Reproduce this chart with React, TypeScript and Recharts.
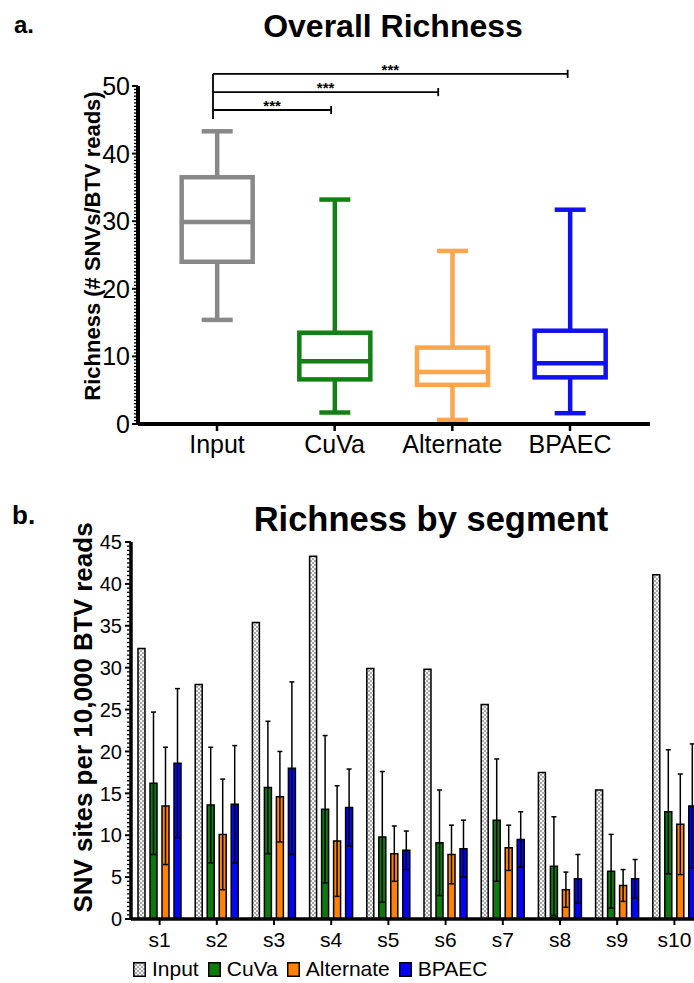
import React from 'react';
import {
  ComposedChart, BarChart, Bar, XAxis, YAxis, ErrorBar, ReferenceLine, Legend, Label,
} from 'recharts';

// panel a: overall richness box plot
const groups = ['Input', 'CuVa', 'Alternate', 'BPAEC'];
const boxMin = [15.4, 1.7, 0.6, 1.6];
const boxQ1 = [24.0, 6.6, 5.8, 6.9];
const boxMedian = [29.9, 9.3, 7.7, 9.0];
const boxQ3 = [36.5, 13.5, 11.3, 13.8];
const boxMax = [43.3, 33.2, 25.6, 31.7];
const boxColors = ['#888888', '#138013', '#ffa64d', '#1111ee'];
const groupTicks = [0, 1, 2, 3];
const richTicks = Array.from({ length: 101 }, (_, i) => i * 0.5);

// significance brackets (all vs Input), x in group units
const bracketStart = -0.034;
const bracketEnds = [0.97, 1.88, 2.98];
const bracketLevels = [46.45, 49.1, 51.8];
const bracketBottom = 45.1;
const sigLabel = '***';

// panel b: richness by segment
const segments = ['s1', 's2', 's3', 's4', 's5', 's6', 's7', 's8', 's9', 's10'];
const inputVals = [32.3, 28.0, 35.4, 43.3, 29.9, 29.8, 25.6, 17.5, 15.4, 41.1];
const cuvaVals = [16.2, 13.6, 15.7, 13.1, 9.8, 9.1, 11.8, 6.3, 5.7, 12.8];
const cuvaErr = [8.5, 6.9, 7.9, 8.8, 7.8, 6.3, 7.3, 5.9, 4.4, 7.4];
const altVals = [13.5, 10.1, 14.6, 9.3, 7.8, 7.7, 8.5, 3.5, 4.0, 11.3];
const altErr = [7.0, 6.6, 5.4, 6.6, 3.3, 3.5, 2.7, 2.1, 1.9, 6.0];
const bpaecVals = [18.6, 13.7, 18.0, 13.3, 8.2, 8.4, 9.5, 4.8, 4.8, 13.5];
const bpaecErr = [8.9, 7.0, 10.3, 4.6, 2.3, 3.4, 3.3, 2.9, 2.3, 7.4];
const segTicks = Array.from({ length: 91 }, (_, i) => i * 0.5);

const seriesNames = ['Input', 'CuVa', 'Alternate', 'BPAEC'];
const seriesFills = ['url(#checker)', '#0e7a0e', '#ff8205', '#0505f5'];

const boxData = groups.map((g, i) => ({
  idx: i, group: g, min: boxMin[i], q1: boxQ1[i], median: boxMedian[i], q3: boxQ3[i], max: boxMax[i],
}));

const segData = segments.map((s, i) => ({
  segment: s,
  input: inputVals[i],
  cuva: cuvaVals[i], cuvaErr: cuvaErr[i],
  alt: altVals[i], altErr: altErr[i],
  bpaec: bpaecVals[i], bpaecErr: bpaecErr[i],
}));

const FONT = '"Liberation Sans", Arial, sans-serif';

function BoxShape(props: any) {
  const { x, y, width, height, payload, index } = props;
  const { min, q1, median, q3, max } = payload;
  const py = (v: number) => y + (height * (max - v)) / (max - min);
  const cx = x + width / 2;
  const half = 35.5;
  const cap = 15.5;
  return (
    <g stroke={boxColors[index]} strokeWidth={4.5} fill="none">
      <line x1={cx} x2={cx} y1={py(max)} y2={py(q3)} />
      <line x1={cx} x2={cx} y1={py(q1)} y2={py(min)} />
      <line x1={cx - cap} x2={cx + cap} y1={py(max)} y2={py(max)} />
      <line x1={cx - cap} x2={cx + cap} y1={py(min)} y2={py(min)} />
      <rect x={cx - half} y={py(q3)} width={half * 2} height={py(q1) - py(q3)} />
      <line x1={cx - half} x2={cx + half} y1={py(median)} y2={py(median)} />
    </g>
  );
}

const makeYTick = (major: number, fontSize: number, gap: number) => (props: any) => {
  const { x, y, payload } = props;
  const v = payload.value;
  const isMajor = Math.abs(v / major - Math.round(v / major)) < 1e-6;
  return (
    <g>
      <line x1={x - (isMajor ? 6 : 4)} x2={x} y1={y} y2={y} stroke="#000" strokeWidth={isMajor ? 2 : 1.3} />
      {isMajor && (
        <text x={x - gap} y={y} dy="0.36em" textAnchor="end" fontSize={fontSize} fill="#000">{v}</text>
      )}
    </g>
  );
};

const yTitle = (text: string, fontSize: number, dx: number, dy: number) => (props: any) => {
  const vb = props.viewBox;
  const cx = vb.x + vb.width / 2 + dx;
  const cy = vb.y + vb.height / 2 + dy;
  return (
    <text x={cx} y={cy} transform={`rotate(-90 ${cx} ${cy})`} textAnchor="middle"
      dominantBaseline="central" fontSize={fontSize} fontWeight="bold" fill="#000">{text}</text>
  );
};

function SegLegend() {
  return (
    <div style={{ display: 'flex', alignItems: 'center', fontSize: 21, fontFamily: FONT, color: '#000' }}>
      {seriesNames.map((n, i) => (
        <div key={n} style={{ display: 'flex', alignItems: 'center', marginRight: 9 }}>
          <svg width={13} height={15} style={{ marginRight: 6 }}>
            <rect x={0.75} y={0.75} width={11.5} height={13.5} fill={seriesFills[i]} stroke="#000" strokeWidth={1.5} />
          </svg>
          <span>{n}</span>
        </div>
      ))}
    </div>
  );
}

const headStyle = (left: number, top: number, size: number): React.CSSProperties => ({
  position: 'absolute', left, top, fontSize: size, fontWeight: 'bold', lineHeight: 1, whiteSpace: 'nowrap',
});

export default function App() {
  return (
    <div style={{
      position: 'absolute', left: 0, top: 0, width: 694, height: 983, overflow: 'hidden',
      background: '#fff', fontFamily: FONT, color: '#000',
    }}>
      <svg width={0} height={0} style={{ position: 'absolute' }}>
        <defs>
          <pattern id="checker" width={4} height={4} patternUnits="userSpaceOnUse">
            <rect width={4} height={4} fill="#f4f4f4" />
            <rect width={2} height={2} fill="#a8a8a8" />
            <rect x={2} y={2} width={2} height={2} fill="#a8a8a8" />
          </pattern>
        </defs>
      </svg>

      <div style={headStyle(14, 13, 24)}>a.</div>
      <div style={{ ...headStyle(0, 10, 32), width: 786, textAlign: 'center' }}>Overall Richness</div>

      <div style={{ position: 'absolute', left: 0, top: 0 }}>
        <ComposedChart width={694} height={470} data={boxData}
          margin={{ top: 86, right: 44, bottom: 16, left: 50 }}>
          <XAxis dataKey="idx" type="number" domain={[0, 3]} ticks={groupTicks} interval={0}
            padding={{ left: 79, right: 80 }} tickFormatter={(i: number) => groups[i]}
            axisLine={{ stroke: '#000', strokeWidth: 4 }} tickLine={{ stroke: '#000', strokeWidth: 2.5 }}
            tickSize={7} tickMargin={4} tick={{ fontSize: 25, fill: '#000' }} />
          <YAxis width={88} domain={[0, 50]} ticks={richTicks} interval={0} allowDataOverflow
            axisLine={{ stroke: '#000', strokeWidth: 4 }} tickLine={false} tickSize={0} tickMargin={0}
            tick={makeYTick(10, 25, 8)}>
            <Label content={yTitle('Richness (# SNVs/BTV reads)', 22, -2, -9)} />
          </YAxis>
          <Bar dataKey={(d: any) => [d.min, d.max]} barSize={72} shape={BoxShape} isAnimationActive={false} />
          <ReferenceLine ifOverflow="visible" stroke="#000" strokeWidth={1.8}
            segment={[{ x: bracketStart, y: bracketBottom }, { x: bracketStart, y: bracketLevels[2] }]} />
          {bracketEnds.map((e, i) => (
            <ReferenceLine key={'b' + i} ifOverflow="visible" stroke="#000" strokeWidth={1.8}
              segment={[{ x: bracketStart, y: bracketLevels[i] }, { x: e, y: bracketLevels[i] }]}
              label={{ value: sigLabel, position: 'top', offset: -1, fontSize: 15, fontWeight: 'bold', fill: '#000' }} />
          ))}
          {bracketEnds.map((e, i) => (
            <ReferenceLine key={'t' + i} ifOverflow="visible" stroke="#000" strokeWidth={1.8}
              segment={[{ x: e, y: bracketLevels[i] - 0.6 }, { x: e, y: bracketLevels[i] + 0.6 }]} />
          ))}
        </ComposedChart>
      </div>

      <div style={headStyle(12, 502, 26)}>b.</div>
      <div style={{ ...headStyle(0, 502, 34.5), width: 862, textAlign: 'center' }}>Richness by segment</div>

      <div style={{ position: 'absolute', left: 0, top: 470 }}>
        <BarChart width={714} height={513} data={segData} barGap={5}
          margin={{ top: 72, right: 11, bottom: 34, left: 60 }}>
          <XAxis dataKey="segment" interval={0}
            axisLine={{ stroke: '#000', strokeWidth: 3.5 }} tickLine={{ stroke: '#000', strokeWidth: 2 }}
            tickSize={6} tickMargin={7} tick={{ fontSize: 21, fill: '#000' }} />
          <YAxis width={71} domain={[0, 45]} ticks={segTicks} interval={0} allowDataOverflow
            axisLine={{ stroke: '#000', strokeWidth: 3.5 }} tickLine={false} tickSize={0} tickMargin={0}
            tick={makeYTick(5, 20, 9)}>
            <Label content={yTitle('SNV sites per 10,000 BTV reads', 26, -13, -13)} />
          </YAxis>
          <Legend content={<SegLegend />} layout="horizontal" verticalAlign="middle" align="center"
            wrapperStyle={{ top: 487, left: 133, width: 'auto', height: 'auto' }} />
          <Bar dataKey="input" name="Input" fill={seriesFills[0]} stroke="#000" strokeWidth={1.5}
            barSize={7} isAnimationActive={false} />
          <Bar dataKey="cuva" name="CuVa" fill={seriesFills[1]} stroke="#000" strokeWidth={1.5}
            barSize={7} isAnimationActive={false}>
            <ErrorBar dataKey="cuvaErr" direction="y" width={2.5} stroke="#000" strokeWidth={1.5} />
          </Bar>
          <Bar dataKey="alt" name="Alternate" fill={seriesFills[2]} stroke="#000" strokeWidth={1.5}
            barSize={7} isAnimationActive={false}>
            <ErrorBar dataKey="altErr" direction="y" width={2.5} stroke="#000" strokeWidth={1.5} />
          </Bar>
          <Bar dataKey="bpaec" name="BPAEC" fill={seriesFills[3]} stroke="#000" strokeWidth={1.5}
            barSize={7} isAnimationActive={false}>
            <ErrorBar dataKey="bpaecErr" direction="y" width={2.5} stroke="#000" strokeWidth={1.5} />
          </Bar>
        </BarChart>
      </div>
    </div>
  );
}
